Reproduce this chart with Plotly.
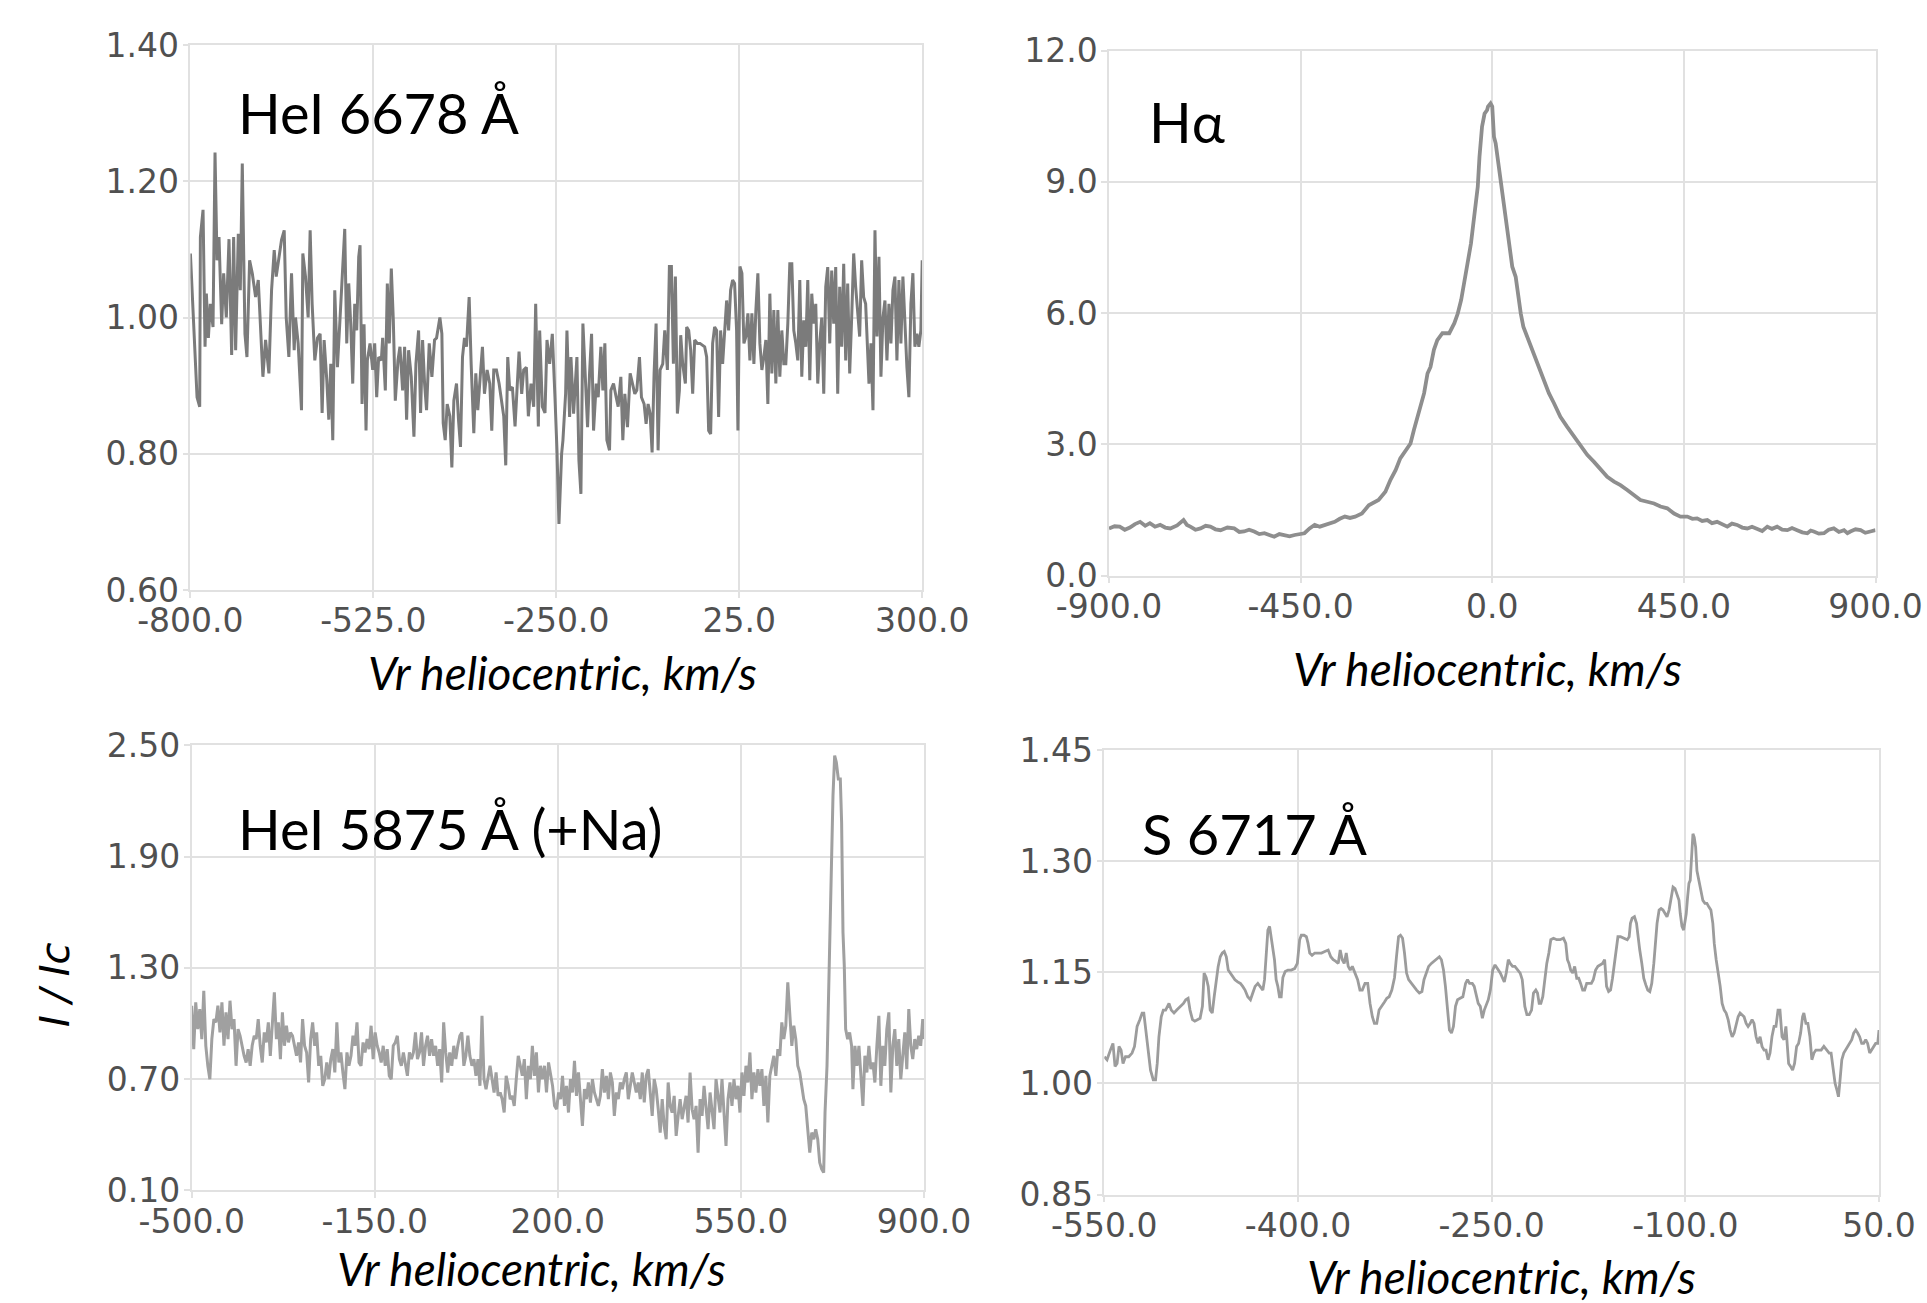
import plotly.graph_objects as go

W, H = 1927, 1303

# ---------------- data ----------------
# Panel 1: HeI 6678 A
he6678_v = [-800, -795, -790, -786, -785, -781, -778, -776, -773, -770,
            -766, -763, -760, -757, -753, -750, -746, -742, -738, -735,
            -732, -728, -725, -722, -718, -715, -711, -707, -702, -698,
            -694, -691, -687, -682, -678, -674, -671, -667, -663, -659,
            -656, -652, -648, -644, -642, -638, -633, -631, -627, -623,
            -620, -617, -613, -609, -605, -602, -599, -595, -592, -589,
            -586, -583, -579, -575, -571, -568, -565, -562, -559, -556,
            -553, -550, -547, -545, -542, -539, -536, -534, -530, -526,
            -523, -520, -517, -513, -511, -507, -504, -501, -498, -495,
            -492, -488, -485, -481, -478, -475, -472, -468, -464, -461,
            -457, -454, -451, -448, -445, -441, -437, -433, -430, -425,
            -422, -420, -417, -414, -410, -407, -404, -400, -397, -394,
            -391, -388, -385, -381, -378, -374, -371, -368, -364, -361,
            -358, -354, -350, -347, -344, -340, -336, -332, -329, -326,
            -323, -320, -316, -312, -309, -306, -302, -299, -295, -292,
            -288, -284, -281, -277, -275, -271, -267, -264, -260, -256,
            -252, -249, -246,
            -242, -240, -236, -234, -230, -228, -224, -222, -219, -216,
            -213, -210, -207, -203, -200, -197, -194, -190, -187, -183,
            -180, -177, -174, -170, -168, -164, -160, -157, -153, -150,
            -147, -143, -139, -135, -132, -129, -125, -122, -118, -115,
            -112, -109, -106, -103, -100, -97, -94, -90, -87, -83,
            -80, -77, -74, -71, -68, -65, -63, -60, -56, -54,
            -51, -48, -45, -42, -38, -34, -30, -27, -24, -21,
            -18, -15, -12, -9, -6, -3, 0, 3, 6, 9,
            12, 15, 18, 21, 23, 26, 29, 32, 35, 38,
            41, 44, 47, 50, 53, 56, 59, 62, 65, 68,
            71, 74, 77, 80, 83, 86, 89, 92, 95, 98,
            101, 104, 107, 110, 113, 116, 119, 122, 125, 128,
            131, 134, 137, 140, 143, 146, 149, 152, 155, 158,
            161, 164, 167, 170, 173, 176, 179, 182, 185, 188,
            191, 194, 197, 200, 203, 206, 209, 212, 215, 218,
            220, 223, 226, 229, 232, 235, 238, 241, 244, 247,
            250, 253, 256, 259, 262, 265, 268, 271, 274, 277,
            280, 283, 286, 289, 292, 295, 298, 300]
he6678_i = [1.094, 0.98, 0.883, 0.869, 1.118, 1.158, 0.957, 1.035, 0.97, 1.02,
            0.986, 1.242, 1.084, 1.118, 0.99, 1.065, 1.0, 1.115, 0.945, 1.118,
            0.952, 1.123, 1.04, 1.226, 0.976, 0.942, 1.084, 1.065, 1.03, 1.055,
            0.981, 0.913, 0.967, 0.918, 1.04, 1.099, 1.06, 1.09, 1.114, 1.128,
            1.0, 0.942, 1.065, 0.952, 1.0, 0.962, 0.864, 1.094, 1.06, 1.0,
            1.128, 1.02, 0.937, 0.97, 0.976, 0.86, 0.967, 0.908, 0.85, 0.932,
            0.82, 1.04, 0.927, 1.0, 1.084, 1.13, 0.962, 1.05, 0.99, 0.903,
            1.02, 0.981, 1.089, 1.106, 0.873, 0.99, 0.834, 0.937, 0.962, 0.923,
            0.962, 0.883, 0.942, 0.937, 0.97, 0.893, 1.05, 0.962, 1.072, 0.996,
            0.878, 0.937, 0.957, 0.893, 0.957, 0.85, 0.952, 0.913, 0.825, 0.932,
            0.981, 0.86, 0.967, 0.903, 0.864, 0.962, 0.913, 0.967, 0.97, 1.0,
            0.976, 0.845, 0.82, 0.873, 0.855, 0.78, 0.878, 0.903, 0.85, 0.81,
            0.942, 0.97, 0.957, 1.03, 0.932, 0.83, 0.918, 0.864, 0.918, 0.957,
            0.888, 0.923, 0.903, 0.834, 0.923, 0.923, 0.903, 0.873, 0.855, 0.783,
            0.942, 0.893, 0.898, 0.84, 0.893, 0.95, 0.888, 0.923, 0.927, 0.855,
            0.903, 0.869, 1.02, 0.84, 0.981, 0.869, 0.86, 0.967, 0.932, 0.976,
            0.883, 0.805, 0.697,
            0.80, 0.82, 0.888, 0.981, 0.854, 0.942, 0.859, 0.893, 0.942, 0.79,
            0.741, 0.991, 0.932, 0.839, 0.918, 0.976, 0.834, 0.903, 0.883, 0.957,
            0.893, 0.962, 0.82, 0.805, 0.893, 0.903, 0.883, 0.869, 0.913, 0.82,
            0.888, 0.839, 0.918, 0.903, 0.888, 0.893, 0.942, 0.883, 0.873, 0.844,
            0.873, 0.859, 0.802, 0.918, 0.991, 0.805, 0.923, 0.932, 0.981, 0.923,
            1.075, 1.075, 0.932, 1.06, 0.859, 0.893, 0.974, 0.932, 0.903, 0.986,
            0.981, 0.952, 0.888, 0.967, 0.962, 0.962, 0.959, 0.957, 0.942, 0.834,
            0.829, 0.962, 0.986, 0.981, 0.854, 0.981, 0.932, 0.972, 1.025, 0.981,
            1.04, 1.055, 1.05, 0.981, 0.834, 1.075, 1.065, 0.962, 0.972, 1.006,
            0.937, 1.006, 0.932, 1.011, 1.065, 0.962, 0.923, 0.942, 0.967, 0.873,
            1.035, 0.918, 1.011, 0.903, 1.011, 0.913, 0.981, 0.932, 0.932, 0.991,
            1.079, 1.079, 0.981, 0.962, 0.937, 1.055, 0.913, 0.996, 0.957, 1.055,
            0.908, 1.035, 0.991, 1.02, 0.903, 0.962, 1.0, 0.888, 1.045, 1.074,
            0.962, 1.069, 0.991, 1.074, 0.888, 1.045, 0.957, 1.079, 0.937, 1.05,
            0.918, 1.0, 1.094, 1.045, 1.0, 0.972, 1.084, 1.03, 1.02, 0.952,
            0.903, 0.962, 0.864, 1.128, 0.972, 1.089, 0.913, 1.0, 1.025, 0.937,
            1.02, 0.962, 1.04, 1.06, 0.937, 1.055, 0.962, 1.06, 0.981, 0.927,
            0.883, 1.02, 1.065, 0.957, 0.976, 0.957, 0.981, 1.084]

# Panel 2: H-alpha
ha_v = [-900, -887, -875, -863, -851, -839, -827, -815, -804, -792, -780, -768, -756,
        -740, -725, -717, -709, -697, -685, -673, -662, -650, -638, -622, -606, -594,
        -583, -571, -559, -547, -535, -523, -512, -500, -488, -476, -464, -452, -441,
        -429, -417, -405, -393, -381, -370, -358, -346, -334, -322, -306, -290, -267,
        -251, -239, -227, -216, -204, -192, -184, -176, -166, -160, -152, -145, -137,
        -129, -117, -101, -89, -81, -73, -66, -58, -50, -42, -34, -30, -24, -18, -12,
        -10, -4, 0, 4, 8, 13, 20, 26, 31, 39, 47, 55, 60, 67, 73, 82, 94, 102, 110,
        121, 133, 145, 160, 176, 192, 207, 223, 239, 254, 270, 286, 301, 317, 333,
        348, 364, 380, 395, 411, 427, 442, 458, 470, 481, 493, 505, 516, 528, 540,
        552, 563, 575, 587, 599, 610, 622, 634, 646, 657, 669, 681, 693, 704, 716,
        728, 740, 748, 755, 767, 779, 790, 802, 814, 826, 834, 841, 853, 865, 876,
        888, 900]
ha_i = [1.08, 1.13, 1.12, 1.05, 1.10, 1.18, 1.23, 1.14, 1.20, 1.12, 1.16, 1.10, 1.08,
        1.15, 1.27, 1.16, 1.12, 1.05, 1.08, 1.14, 1.12, 1.06, 1.04, 1.10, 1.08, 1.00,
        1.01, 1.05, 1.01, 0.95, 0.97, 0.92, 0.89, 0.95, 0.93, 0.90, 0.93, 0.96, 0.97,
        1.08, 1.16, 1.12, 1.16, 1.20, 1.23, 1.30, 1.35, 1.32, 1.35, 1.42, 1.61, 1.73,
        1.92, 2.19, 2.41, 2.68, 2.87, 3.02, 3.33, 3.59, 3.94, 4.17, 4.62, 4.77, 5.16,
        5.38, 5.54, 5.54, 5.77, 5.99, 6.30, 6.76, 7.14, 7.59, 8.20, 8.89, 9.57, 10.26,
        10.56, 10.64, 10.72, 10.79, 10.72, 10.03, 9.88, 9.50, 9.04, 8.58, 8.13, 7.52,
        7.06, 6.83, 6.45, 5.99, 5.69, 5.46, 5.16, 4.93, 4.70, 4.47, 4.17, 3.94, 3.63,
        3.40, 3.18, 2.95, 2.76, 2.60, 2.45, 2.26, 2.15, 2.07, 1.96, 1.84, 1.73, 1.69,
        1.65, 1.58, 1.54, 1.42, 1.35, 1.35, 1.30, 1.31, 1.25, 1.27, 1.20, 1.23, 1.17,
        1.12, 1.19, 1.16, 1.10, 1.08, 1.12, 1.08, 1.02, 1.12, 1.07, 1.12, 1.05, 1.04,
        1.09, 1.04, 0.99, 0.97, 1.03, 1.01, 0.96, 0.97, 1.05, 1.08, 1.00, 1.04, 0.97,
        1.01, 1.06, 1.04, 0.98, 1.01, 1.04]

# Panel 3: HeI 5875 A (+Na)
he5875_v = [-500.0, -496.1, -492.3, -488.4, -484.6, -480.7, -476.9, -473.0, -469.2, -465.3,
            -461.5, -457.6, -453.8, -449.9, -446.0, -442.2, -438.3, -434.5, -430.6, -426.8,
            -422.9, -419.1, -415.2, -411.4, -407.5, -403.7, -399.8, -395.9, -392.1, -388.2,
            -384.4, -380.5, -376.7, -372.8, -369.0, -365.1, -361.3, -357.4, -353.5, -349.7,
            -345.8, -342.0, -338.1, -334.3, -330.4, -326.6, -322.7, -318.9, -315.0, -311.2,
            -307.3, -303.4, -299.6, -295.7, -291.9, -288.0, -284.2, -280.3, -276.5, -272.6,
            -268.8, -264.9, -261.1, -257.2, -253.3, -249.5, -245.6, -241.8, -237.9, -234.1,
            -230.2, -226.4, -222.5, -218.7, -214.8, -211.0, -207.1, -203.2, -199.4, -195.5,
            -191.7, -187.8, -184.0, -180.1, -176.3, -172.4, -168.6, -164.7, -160.8, -157.0,
            -153.1, -149.3, -145.4, -141.6, -137.7, -133.9, -130.0, -126.2, -122.3, -118.5,
            -114.6, -110.7, -106.9, -103.0, -99.2, -95.3, -91.5, -87.6, -83.8, -79.9,
            -76.1, -72.2, -68.4, -64.5, -60.6, -56.8, -52.9, -49.1, -45.2, -41.4,
            -37.5, -33.7, -29.8, -26.0, -22.1, -18.3, -14.4, -10.5, -6.7, -2.8,
            1.0, 4.9, 8.7, 12.6, 16.4, 20.3, 24.1, 28.0, 31.8, 35.7,
            39.6, 43.4, 47.3, 51.1, 55.0, 58.8, 62.7, 66.5, 70.4, 74.2,
            78.1, 81.9, 85.8, 89.7, 93.5, 97.4, 101.2, 105.1, 108.9, 112.8,
            116.6, 120.5, 124.3, 128.2, 132.1, 135.9, 139.8, 143.6, 147.5, 151.3,
            155.2, 159.0, 162.9, 166.7, 170.6, 174.4, 178.3, 182.2, 186.0, 189.9,
            193.7, 197.6, 201.4, 205.3,
            208.9, 212.7, 216.5, 220.3, 224.1, 228.0, 231.8, 235.6, 239.4, 243.2,
            247.0, 250.8, 254.6, 258.4, 262.3, 266.1, 269.9, 273.7, 277.5, 281.3,
            285.1, 288.9, 292.8, 296.6, 300.4, 304.2, 308.0, 311.8, 315.6, 319.4,
            323.2, 327.1, 330.9, 334.7, 338.5, 342.3, 346.1, 349.9, 353.7, 357.6,
            361.4, 365.2, 369.0, 372.8, 376.6, 380.4, 384.2, 388.0, 391.9, 395.7,
            399.5, 403.3, 407.1, 410.9, 414.7, 418.5, 422.4, 426.2, 430.0, 433.8,
            437.6, 441.4, 445.2, 449.0, 452.8, 456.7, 460.5, 464.3, 468.1, 471.9,
            475.7, 479.5, 483.3, 487.2, 491.0, 494.8, 498.6, 502.4, 506.2, 510.0,
            513.8, 517.7, 521.5, 525.3, 529.1, 532.9, 536.7, 540.5, 544.3, 548.1,
            552.0, 555.8, 559.6, 563.4, 567.2, 571.0, 574.8, 578.6, 582.5, 586.3,
            590.1, 593.9, 597.7, 601.5, 605.3, 609.1, 612.9, 616.8, 620.6, 624.4,
            628.2, 632.0, 635.8, 639.6, 643.4, 647.3, 651.1, 654.9, 658.7, 662.5,
            666.3, 670.1, 673.9, 677.7, 681.6, 685.4, 689.2, 693.0, 696.8, 700.6,
            704.4, 708.2, 710.8, 714.6, 718.4, 722.2, 726.0, 729.2, 732.4, 736.2,
            740.0, 742.5, 745.1, 747.6, 750.2, 754.0, 757.8, 761.6, 764.1, 768.0,
            771.8, 775.6, 779.4, 783.2, 787.0, 790.8, 794.6, 798.4, 802.3, 806.1,
            809.9, 813.7, 817.5, 821.3, 825.1, 828.9, 832.8, 836.6, 840.4, 844.2,
            848.0, 851.8, 855.6, 859.4, 863.3, 867.1, 870.9, 874.7, 878.5, 882.3,
            886.1, 889.9, 893.7, 897.6, 900.0]
he5875_i = [1.096, 0.862, 1.114, 0.97, 1.078, 0.916, 1.177, 0.88, 0.772, 0.70,
            0.916, 1.024, 1.006, 1.096, 0.952, 1.114, 0.88, 1.06, 0.916, 1.123,
            0.97, 1.024, 0.772, 0.97, 0.934, 0.88, 0.826, 0.79, 0.862, 0.772,
            0.88, 0.934, 0.916, 1.024, 0.88, 0.79, 0.952, 0.898, 1.006, 0.826,
            0.988, 1.168, 0.916, 1.006, 0.808, 1.06, 0.88, 0.988, 0.898, 0.952,
            0.934, 0.88, 0.826, 0.898, 0.79, 1.024, 0.88, 0.844, 0.682, 0.916,
            1.006, 0.88, 0.952, 0.772, 0.826, 0.664, 0.70, 0.79, 0.70, 0.808,
            0.862, 0.736, 1.006, 0.79, 0.844, 0.736, 0.646, 0.844, 0.772, 0.826,
            0.934, 0.88, 1.006, 0.79, 0.772, 0.898, 0.844, 0.916, 0.862, 0.988,
            0.808, 0.952, 0.88, 0.844, 0.79, 0.88, 0.772, 0.862, 0.718, 0.70,
            0.88, 0.898, 0.934, 0.808, 0.772, 0.844, 0.772, 0.718, 0.844, 0.808,
            0.844, 0.952, 0.808, 0.844, 0.952, 0.772, 0.88, 0.934, 0.826, 0.916,
            0.826, 0.88, 0.772, 0.862, 0.682, 1.006, 0.844, 0.736, 0.844, 0.772,
            0.88, 0.808, 0.88, 0.934, 0.952, 0.772, 0.826, 0.934, 0.826, 0.772,
            0.808, 0.718, 0.808, 0.664, 1.042, 0.70, 0.646, 0.718, 0.772, 0.70,
            0.628, 0.736, 0.61, 0.628, 0.592, 0.52, 0.718, 0.664, 0.592, 0.61,
            0.556, 0.70, 0.826, 0.772, 0.718, 0.808, 0.592, 0.772, 0.70, 0.88,
            0.718, 0.844, 0.628, 0.772, 0.70, 0.772, 0.628, 0.79, 0.718, 0.664,
            0.556, 0.538, 0.628, 0.592,
            0.718, 0.556, 0.664, 0.52, 0.70, 0.628, 0.799, 0.61, 0.736, 0.592,
            0.448, 0.646, 0.592, 0.682, 0.574, 0.70, 0.628, 0.592, 0.556, 0.61,
            0.754, 0.628, 0.718, 0.592, 0.736, 0.682, 0.502, 0.628, 0.592, 0.682,
            0.646, 0.70, 0.736, 0.592, 0.664, 0.736, 0.682, 0.628, 0.682, 0.592,
            0.736, 0.574, 0.718, 0.754, 0.628, 0.502, 0.70, 0.646, 0.538, 0.412,
            0.592, 0.448, 0.376, 0.682, 0.556, 0.52, 0.61, 0.394, 0.502, 0.592,
            0.484, 0.538, 0.61, 0.466, 0.736, 0.538, 0.484, 0.556, 0.304, 0.592,
            0.502, 0.664, 0.538, 0.43, 0.628, 0.538, 0.43, 0.70, 0.61, 0.52,
            0.70, 0.538, 0.34, 0.592, 0.682, 0.556, 0.70, 0.592, 0.664, 0.52,
            0.736, 0.61, 0.772, 0.682, 0.844, 0.592, 0.736, 0.628, 0.754, 0.664,
            0.754, 0.556, 0.718, 0.466, 0.718, 0.772, 0.826, 0.718, 0.862, 0.826,
            1.006, 0.916, 0.988, 1.222, 1.024, 0.88, 0.988, 0.916, 0.772, 0.736,
            0.664, 0.592, 0.556, 0.448, 0.304, 0.412, 0.376, 0.43, 0.376, 0.25,
            0.214, 0.196, 0.52, 0.772, 1.258, 1.708, 2.229, 2.445, 2.409, 2.319,
            2.319, 2.085, 1.492, 1.312, 0.97, 0.916, 0.952, 0.88, 0.646, 0.88,
            0.772, 0.88, 0.718, 0.556, 0.826, 0.736, 0.88, 0.754, 0.79, 0.682,
            0.88, 1.042, 0.664, 0.88, 0.772, 0.97, 1.06, 0.628, 0.88, 0.97,
            0.772, 0.916, 0.70, 0.844, 0.952, 0.754, 1.078, 0.88, 0.808, 0.916,
            0.862, 0.934, 0.88, 1.024, 0.916]

# Panel 4: S 6717 A
s6717_v = [-550.0, -547.9, -545.3, -543.3, -541.7, -540.1, -538.6, -537.0, -535.5, -533.6,
           -531.1, -528.5, -526.6, -524.6, -522.5, -520.7, -519.4, -518.1, -516.3, -514.2,
           -512.1, -510.3, -509.0, -507.7, -505.9, -504.3, -502.5, -499.9, -498.1, -496.0,
           -493.9, -491.3, -488.7, -486.9, -485.1, -483.6, -481.7, -479.9, -477.8, -475.8,
           -474.0, -472.7, -471.1, -469.5, -468.0, -466.4, -464.9, -463.3, -461.8, -460.2,
           -458.6, -457.1, -455.5, -454.0, -452.4, -450.6, -448.8, -446.7, -444.6, -442.8,
           -441.0, -438.9, -436.8, -435.0, -433.2, -431.1, -429.1, -427.2, -425.9, -424.6,
           -423.3, -422.0, -420.8, -419.5, -418.2, -416.9, -415.6, -414.3, -413.0, -411.7,
           -409.9, -407.8, -405.2, -402.6, -400.5, -398.7, -397.4, -395.3, -393.5, -392.2,
           -390.9, -389.1, -387.0, -384.4, -381.8, -379.2, -376.6, -374.6, -372.7, -370.9,
           -368.8, -367.3, -365.7, -364.2, -362.6, -361.1, -359.5, -357.9, -355.9, -353.8,
           -352.0, -350.2, -348.1, -346.0, -344.2, -342.4, -340.8, -339.0, -337.2, -335.1,
           -333.0, -331.2, -329.4, -327.3, -325.2, -323.7, -322.1, -320.6, -319.0, -317.5,
           -315.9, -314.3, -312.3, -310.2, -308.1, -306.0, -304.0, -302.4, -300.8, -298.8,
           -296.7, -294.6, -292.5, -290.5, -288.9, -287.3, -285.8, -284.2, -282.7, -281.1,
           -279.6, -278.0, -276.4, -274.4, -272.3, -270.2, -268.7, -267.1, -265.0, -263.5,
           -261.9, -260.4, -258.8, -257.2, -255.7, -254.1, -252.6, -251.0,
           -249.2, -247.4, -245.4, -243.3, -241.5, -240.2, -238.7, -237.1, -235.6, -233.8,
           -232.0, -229.9, -227.9, -226.3, -225.3, -224.3, -222.7, -220.9, -219.1, -217.6,
           -215.8, -214.5, -213.2, -211.9, -210.4, -208.8, -207.3, -205.7, -204.2, -202.1,
           -199.6, -197.0, -194.4, -192.6, -191.3, -190.1, -188.8, -187.2, -185.7, -184.1,
           -182.6, -181.1, -179.5, -178.0, -176.4, -174.6, -172.8, -171.3, -169.5, -167.7,
           -165.6, -164.1, -162.5, -161.0, -159.4, -157.9, -156.4, -154.8, -153.3, -152.2,
           -150.2, -147.6, -145.0, -143.5, -142.5, -141.2, -139.4, -137.8, -136.8, -135.3,
           -133.7, -132.2, -130.6, -129.1, -127.5, -126.0, -124.4, -123.2, -121.9, -120.3,
           -118.8, -117.3, -115.7, -114.2, -112.6, -111.1, -109.5, -108.0, -106.4, -104.9,
           -103.9, -102.6, -101.3, -100.3, -99.3, -98.2, -97.2, -96.2, -95.1, -94.1,
           -93.1, -92.0, -91.0, -89.5, -87.9, -86.4, -84.8, -83.3, -81.7, -80.2,
           -78.7, -77.6, -76.1, -74.5, -73.0, -71.5, -69.9, -68.4, -66.8, -65.3,
           -63.7, -62.2, -60.7, -59.1, -57.6, -56.0, -54.5, -52.9, -51.4, -49.8,
           -48.3, -46.8, -45.2, -43.7, -42.1, -40.6, -39.0, -37.5, -35.9, -34.4,
           -32.9, -31.3, -29.8, -28.2, -26.7, -25.1, -23.6, -22.1, -21.0, -20.0,
           -18.5, -16.9, -15.4, -13.8, -12.3, -10.7, -9.2, -8.2, -6.6, -5.1,
           -3.5, -2.0, -0.4, 1.1, 3.2, 5.2, 7.3, 9.3, 11.4, 12.9,
           14.5, 16.0, 17.6, 18.6, 19.6, 21.2, 22.7, 24.2, 25.8, 27.3,
           28.9, 30.4, 32.0, 33.5, 35.0, 36.6, 38.1, 39.7, 41.2, 42.8,
           44.3, 45.9, 47.4, 49.0, 50.0]
s6717_i = [1.036, 1.032, 1.045, 1.054, 1.023, 1.027, 1.05, 1.045, 1.027, 1.036,
           1.036, 1.041, 1.05, 1.077, 1.086, 1.095, 1.095, 1.077, 1.054, 1.018,
           1.005, 1.005, 1.027, 1.063, 1.09, 1.099, 1.099, 1.108, 1.099, 1.095,
           1.099, 1.104, 1.108, 1.113, 1.115, 1.099, 1.086, 1.084, 1.086, 1.088,
           1.104, 1.149, 1.143, 1.131, 1.099, 1.095, 1.117, 1.143, 1.158, 1.171,
           1.176, 1.178, 1.171, 1.153, 1.149, 1.146, 1.14, 1.137, 1.135, 1.131,
           1.126, 1.117, 1.113, 1.122, 1.131, 1.135, 1.131, 1.126, 1.14, 1.171,
           1.207, 1.212, 1.198, 1.18, 1.167, 1.14, 1.131, 1.117, 1.117, 1.143,
           1.151, 1.153, 1.153, 1.155, 1.162, 1.194, 1.2, 1.2, 1.198, 1.189,
           1.176, 1.173, 1.176, 1.176, 1.176, 1.178, 1.18, 1.171, 1.167, 1.165,
           1.162, 1.18, 1.167, 1.162, 1.176, 1.158, 1.153, 1.158, 1.149, 1.14,
           1.126, 1.126, 1.135, 1.135, 1.108, 1.09, 1.081, 1.081, 1.099, 1.104,
           1.11, 1.115, 1.117, 1.126, 1.143, 1.171, 1.198, 1.2, 1.196, 1.176,
           1.149, 1.14, 1.135, 1.131, 1.126, 1.122, 1.124, 1.14, 1.149, 1.158,
           1.162, 1.165, 1.167, 1.171, 1.167, 1.153, 1.131, 1.104, 1.072, 1.068,
           1.077, 1.104, 1.113, 1.115, 1.117, 1.135, 1.14, 1.135, 1.135, 1.131,
           1.117, 1.108, 1.104, 1.088, 1.099, 1.108, 1.113, 1.126,
           1.153, 1.16, 1.155, 1.149, 1.142, 1.137, 1.149, 1.167, 1.162, 1.158,
           1.158, 1.153, 1.149, 1.14, 1.122, 1.104, 1.093, 1.093, 1.099, 1.122,
           1.126, 1.122, 1.108, 1.108, 1.117, 1.14, 1.162, 1.176, 1.194, 1.196,
           1.194, 1.194, 1.196, 1.189, 1.167, 1.162, 1.153, 1.149, 1.158, 1.142,
           1.142, 1.135, 1.126, 1.126, 1.135, 1.135, 1.135, 1.14, 1.153, 1.158,
           1.16, 1.162, 1.167, 1.131, 1.124, 1.126, 1.142, 1.162, 1.18, 1.198,
           1.198, 1.196, 1.194, 1.198, 1.216, 1.223, 1.225, 1.216, 1.198, 1.18,
           1.162, 1.142, 1.133, 1.126, 1.124, 1.135, 1.162, 1.189, 1.216, 1.234,
           1.236, 1.234, 1.229, 1.225, 1.234, 1.252, 1.265, 1.263, 1.256, 1.247,
           1.229, 1.212, 1.207, 1.216, 1.229, 1.252, 1.27, 1.274, 1.301, 1.337,
           1.332, 1.319, 1.287, 1.274, 1.265, 1.247, 1.243, 1.243, 1.238, 1.234,
           1.216, 1.189, 1.167, 1.149, 1.131, 1.108, 1.099, 1.095, 1.086, 1.072,
           1.063, 1.068, 1.081, 1.09, 1.095, 1.093, 1.09, 1.081, 1.077, 1.081,
           1.086, 1.081, 1.063, 1.054, 1.063, 1.05, 1.045, 1.045, 1.032, 1.041,
           1.063, 1.077, 1.077, 1.099, 1.099, 1.063, 1.059, 1.077, 1.054, 1.027,
           1.023, 1.018, 1.027, 1.05, 1.054, 1.068, 1.09, 1.095, 1.081, 1.081,
           1.063, 1.032, 1.041, 1.045, 1.045, 1.045, 1.05, 1.045, 1.041, 1.041,
           1.023, 1.0, 0.99, 0.982, 1.0, 1.032, 1.041, 1.045, 1.05, 1.054,
           1.059, 1.068, 1.072, 1.068, 1.063, 1.054, 1.054, 1.059, 1.054, 1.041,
           1.045, 1.05, 1.054, 1.054, 1.072]

# ticks
p1_xticks = [-800, -525, -250, 25, 300]
p1_yticks = [0.60, 0.80, 1.00, 1.20, 1.40]
p2_xticks = [-900, -450, 0, 450, 900]
p2_yticks = [0, 3, 6, 9, 12]
p3_xticks = [-500, -150, 200, 550, 900]
p3_yticks = [0.10, 0.70, 1.30, 1.90, 2.50]
p4_xticks = [-550, -400, -250, -100, 50]
p4_yticks = [0.85, 1.00, 1.15, 1.30, 1.45]

panel_labels = ["HeI 6678 Å", "Hα", "HeI 5875 Å (+Na)", "S 6717 Å"]
x_title = "Vr heliocentric, km/s"
y_title = "I / Ic"

# ---------------- figure ----------------
fig = go.Figure()
series = [(he6678_v, he6678_i, "x", "y", "#7b7b7b", 3.0),
          (ha_v, ha_i, "x2", "y2", "#8e8e8e", 3.8),
          (he5875_v, he5875_i, "x3", "y3", "#a0a0a0", 3.0),
          (s6717_v, s6717_i, "x4", "y4", "#9c9c9c", 2.8)]
for xs, ys, xa, ya, col, lw in series:
    fig.add_trace(go.Scatter(x=xs, y=ys, xaxis=xa, yaxis=ya, mode="lines",
                             line=dict(color=col, width=lw), hoverinfo="skip"))

GRID = "#e1e1e1"
TICKFONT = dict(family="DejaVu Sans", size=33, color="#505050")


def xdom(l, r):
    return [l / W, r / W]


def ydom(t, b):
    return [1 - b / H, 1 - t / H]


boxes = [  # (left, right, top, bottom) in px
    (190.4, 922.2, 45.0, 590.0),
    (1109.0, 1875.5, 50.5, 575.7),
    (191.7, 924.0, 745.4, 1190.4),
    (1104.3, 1879.0, 750.0, 1194.6),
]
xr = [[-800, 300], [-900, 900], [-500, 900], [-550, 50]]
yr = [[0.6, 1.4], [0, 12], [0.1, 2.5], [0.85, 1.45]]
xt = [p1_xticks, p2_xticks, p3_xticks, p4_xticks]
yt = [p1_yticks, p2_yticks, p3_yticks, p4_yticks]
yfmt = ["{:.2f}", "{:.1f}", "{:.2f}", "{:.2f}"]

common = dict(showgrid=True, gridcolor=GRID, gridwidth=1.5, showline=True, mirror=True,
              linecolor=GRID, linewidth=1.5, ticks="outside", ticklen=6, tickwidth=1.5,
              tickcolor=GRID, zeroline=False, automargin=False,
              tickfont=TICKFONT, tickmode="array", fixedrange=True)

layout = dict(width=W, height=H, margin=dict(l=0, r=0, t=0, b=0, pad=0, autoexpand=False),
              paper_bgcolor="white", plot_bgcolor="white", showlegend=False)
for k in range(4):
    sx = "" if k == 0 else str(k + 1)
    l, r, t, b = boxes[k]
    layout["xaxis" + sx] = dict(common, domain=xdom(l, r), range=xr[k], tickvals=xt[k],
                                ticktext=["{:.1f}".format(v) for v in xt[k]],
                                ticklabelstandoff=-5, anchor="y" + sx)
    layout["yaxis" + sx] = dict(common, domain=ydom(t, b), range=yr[k], tickvals=yt[k],
                                ticktext=[yfmt[k].format(v) for v in yt[k]],
                                ticklabelstandoff=-3, anchor="x" + sx)
fig.update_layout(**layout)

ann = []
label_pos = [(236, 112), (1147, 121), (236, 828), (1140, 834)]
for txt, (px, py) in zip(panel_labels, label_pos):
    ann.append(dict(text=txt, x=px / W, y=1 - py / H, xref="paper", yref="paper",
                    xanchor="left", yanchor="middle", showarrow=False,
                    font=dict(family="Lato", size=56, color="black")))
title_pos = [(562, 672), (1487, 668), (531, 1268), (1501, 1276)]
for px, py in title_pos:
    ann.append(dict(text="<i>" + x_title + "</i>", x=px / W, y=1 - py / H, xref="paper",
                    yref="paper", xanchor="center", yanchor="middle", showarrow=False,
                    font=dict(family="Lato", size=46, color="black")))
ann.append(dict(text="<i>" + y_title + "</i>", x=55 / W, y=1 - 985 / H, xref="paper",
                yref="paper", xanchor="center", yanchor="middle", showarrow=False,
                textangle=-90, font=dict(family="DejaVu Sans", size=40, color="black")))
fig.update_layout(annotations=ann)

fig.write_html("out.html")
